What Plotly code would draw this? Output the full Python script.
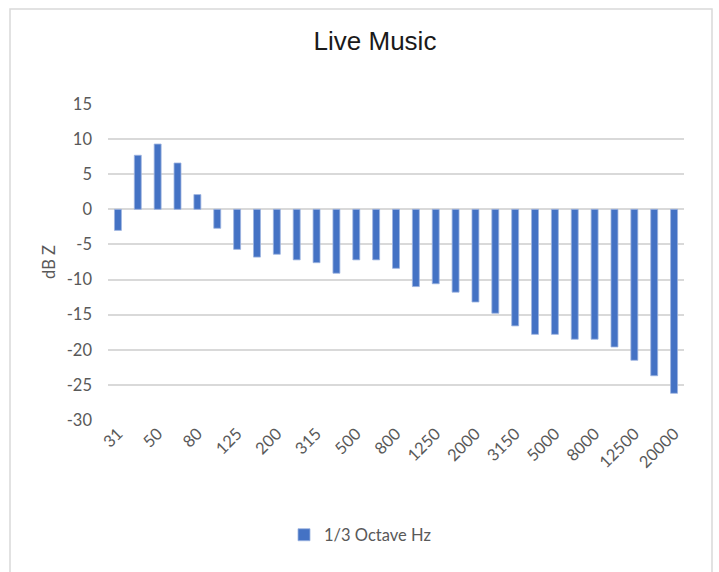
import plotly.graph_objects as go

# 1/3-octave band centre frequencies (Hz)
bands = ["31", "40", "50", "63", "80", "100", "125", "160", "200", "250",
         "315", "400", "500", "630", "800", "1000", "1250", "1600", "2000",
         "2500", "3150", "4000", "5000", "6300", "8000", "10000", "12500",
         "16000", "20000"]

# Level per band, dB Z
levels = [-3.0, 7.7, 9.3, 6.6, 2.1, -2.7, -5.7, -6.8, -6.4, -7.2,
          -7.6, -9.1, -7.2, -7.2, -8.4, -11.0, -10.6, -11.8, -13.2,
          -14.8, -16.6, -17.8, -17.8, -18.5, -18.5, -19.6, -21.5,
          -23.7, -26.2]

# Every other band is labelled on the x axis
shown_ticks = bands[::2]

# y ticks, labelled with a plain hyphen for negatives
y_ticks = list(range(-30, 16, 5))
y_labels = [str(v) for v in y_ticks]

grey = "#595959"
grid = "#d9d9d9"
tick_font = dict(family="Lato, Carlito, Liberation Sans, sans-serif", size=16.5, color=grey)

fig = go.Figure(
    go.Bar(
        x=bands,
        y=levels,
        name="1/3 Octave Hz",
        marker=dict(color="#4472C4", line=dict(color="#9db4e0", width=0.8)),
    )
)

fig.update_layout(
    width=719,
    height=572,
    margin=dict(l=108, r=35, t=104, b=152),
    paper_bgcolor="white",
    plot_bgcolor="white",
    bargap=0.65,
    title=dict(
        text="Live Music",
        x=375 / 719,
        xanchor="center",
        y=1 - 41 / 572,
        yanchor="middle",
        font=dict(family="Liberation Sans Narrow, Liberation Sans, sans-serif",
                  size=26, color="#1a1a1a"),
    ),
    showlegend=True,
    legend=dict(
        orientation="h",
        x=(284 - 108) / 576,
        xanchor="left",
        y=-0.364,
        yanchor="middle",
        font=tick_font,
        itemwidth=30,
    ),
    xaxis=dict(
        type="category",
        range=[-0.5, len(bands) - 0.5],
        tickmode="array",
        tickvals=shown_ticks,
        ticktext=shown_ticks,
        tickangle=-45,
        tickfont=tick_font,
        showgrid=False,
        showline=False,
        zeroline=False,
        ticks="",
    ),
    yaxis=dict(
        range=[-30, 15],
        tickmode="array",
        tickvals=y_ticks,
        ticktext=y_labels,
        tickfont=tick_font,
        showgrid=True,
        gridcolor=grid,
        gridwidth=1.5,
        zeroline=True,
        zerolinecolor=grid,
        zerolinewidth=1.5,
        showline=False,
        ticks="",
        ticklabelstandoff=15,
        title=dict(text="dB Z", font=tick_font, standoff=6),
    ),
    shapes=[
        dict(
            type="rect", xref="paper", yref="paper",
            x0=(10 - 108) / 576, x1=(712 - 108) / 576,
            y0=(420 - 580) / 316, y1=(420 - 9) / 316,
            line=dict(color="#d9d9d9", width=1.5),
            fillcolor="rgba(0,0,0,0)",
            layer="below",
        )
    ],
)

fig.write_html("out.html")
